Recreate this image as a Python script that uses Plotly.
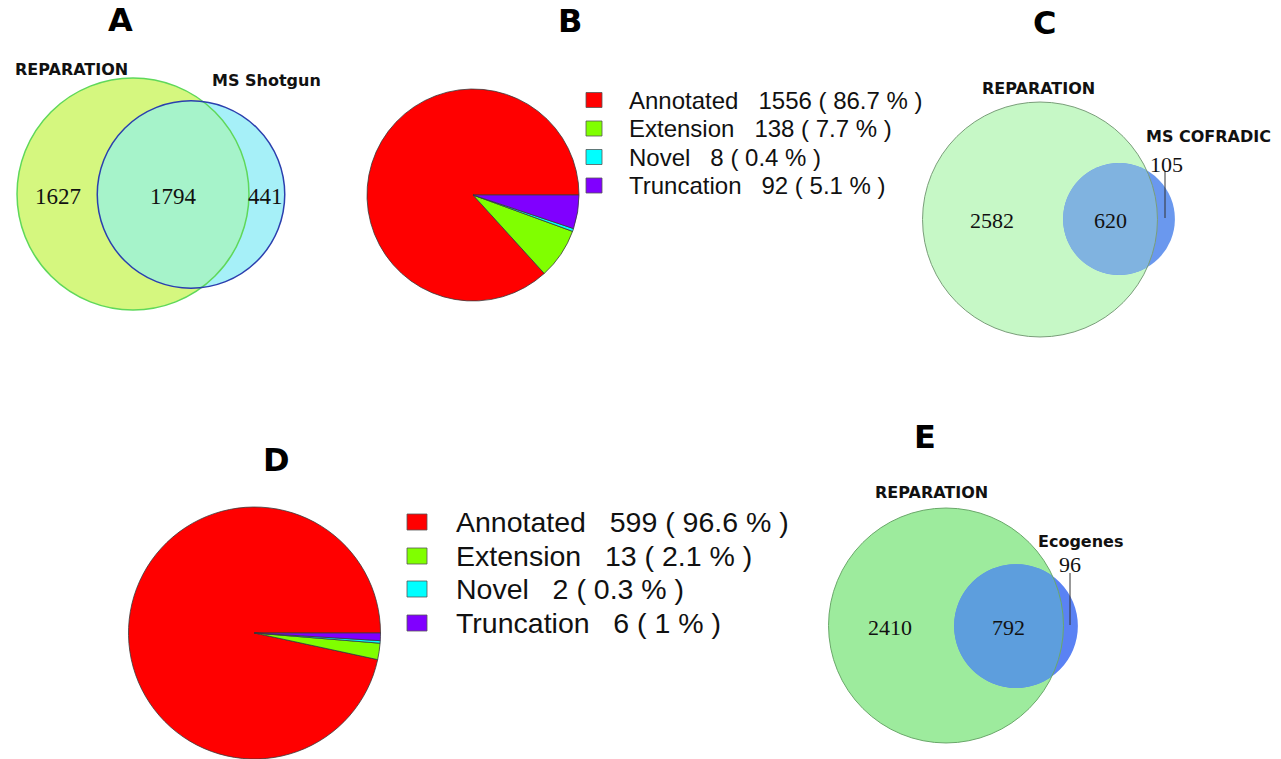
import numpy as np
import plotly.graph_objects as go

# ---------------- data ----------------
panel_letters = ["A", "B", "C", "D", "E"]

venn_a_sets = ["REPARATION", "MS Shotgun"]
venn_a_counts = [1627, 1794, 441]      # only set1, both, only set2
venn_c_sets = ["REPARATION", "MS COFRADIC"]
venn_c_counts = [2582, 620, 105]
venn_e_sets = ["REPARATION", "Ecogenes"]
venn_e_counts = [2410, 792, 96]

pie_categories = ["Annotated", "Extension", "Novel", "Truncation"]
pie_b_values = [1556, 138, 8, 92]
pie_d_values = [599, 13, 2, 6]

# ---------------- styles / layout ----------------
W, H = 1281, 759
pie_colors = ["#FF0000", "#80FF00", "#00FFFF", "#8000FF"]
SANS = "Liberation Sans, Arial, sans-serif"
SERIF = "Liberation Serif, Times New Roman, serif"
BOLD = "DejaVu Sans, Verdana, sans-serif"

venn_styles = [
    dict(sets=venn_a_sets, counts=venn_a_counts, c1=(133, 194), c2=(191, 194.5), scale=1.983,
         fill1="#d5f77f", fill2="#a6f0f8", fill12="#a6f3ca", line1="#5fd85a", line2="#2b3fae",
         lw1=1.5, lw2=1.5, numsize=23,
         labpos=[(71, 69), (266, 80)],
         numpos=[(57.5, 196), (173, 196), (265.5, 196)], leader=None),
    dict(sets=venn_c_sets, counts=venn_c_counts, c1=(1040, 219.5), c2=(1119, 219), scale=2.076,
         fill1="#c6f8c6", fill2="#6a98ee", fill12="#80b3e0", line1="#7a9e7a", line2=None,
         lw1=1, lw2=0, numsize=22,
         labpos=[(1038, 88), (1208, 136)],
         numpos=[(992, 220), (1110, 220), (1166, 164)], leader=((1165, 171), (1165, 218))),
    dict(sets=venn_e_sets, counts=venn_e_counts, c1=(946, 625.5), c2=(1016, 626), scale=2.076,
         fill1="#9deb9d", fill2="#5a82f4", fill12="#5d9edd", line1="#6aa86a", line2=None,
         lw1=1, lw2=0, numsize=22,
         labpos=[(931, 492), (1080, 541)],
         numpos=[(890, 627), (1008.5, 627), (1070, 564)], leader=((1070, 573), (1070, 625))),
]

pie_styles = [
    dict(values=pie_b_values, cx=473, cy=195, r=106,
         sq_x=(586, 602), sq_h=15, rows=[100, 128.5, 157, 185.5], text_x=627, fsize=24),
    dict(values=pie_d_values, cx=254.5, cy=633, r=126,
         sq_x=(407, 427), sq_h=16, rows=[522, 556, 589, 623], text_x=454, fsize=28.5),
]

letter_pos = [(120, 20), (570, 21), (1044, 23), (276, 460), (925, 437)]

fig = go.Figure()
shapes = []
annotations = []


def circle_pts(cx, cy, r, t0, t1, n=120):
    t = np.linspace(t0, t1, n)
    return cx + r * np.cos(t), cy + r * np.sin(t)


for vs in venn_styles:
    a_only, both, b_only = vs["counts"]
    r1 = vs["scale"] * np.sqrt(a_only + both)
    r2 = vs["scale"] * np.sqrt(b_only + both)
    (x1, y1), (x2, y2) = vs["c1"], vs["c2"]
    # filled circles
    shapes.append(dict(type="circle", xref="x", yref="y", x0=x1 - r1, x1=x1 + r1, y0=y1 - r1, y1=y1 + r1,
                       fillcolor=vs["fill1"], line=dict(width=0), layer="above"))
    shapes.append(dict(type="circle", xref="x", yref="y", x0=x2 - r2, x1=x2 + r2, y0=y2 - r2, y1=y2 + r2,
                       fillcolor=vs["fill2"], line=dict(width=0), layer="above"))
    # lens (intersection)
    d = np.hypot(x2 - x1, y2 - y1)
    a = (r1 ** 2 - r2 ** 2 + d ** 2) / (2 * d)
    th12 = np.arctan2(y2 - y1, x2 - x1)
    al1 = np.arccos(np.clip(a / r1, -1, 1))
    al2 = np.arccos(np.clip((d - a) / r2, -1, 1))
    px1, py1 = circle_pts(x1, y1, r1, th12 - al1, th12 + al1)
    px2, py2 = circle_pts(x2, y2, r2, th12 + np.pi - al2, th12 + np.pi + al2)
    px = np.concatenate([px1, px2])
    py = np.concatenate([py1, py2])
    path = "M " + " L ".join(f"{u:.2f},{v:.2f}" for u, v in zip(px, py)) + " Z"
    shapes.append(dict(type="path", xref="x", yref="y", path=path, fillcolor=vs["fill12"],
                       line=dict(width=0), layer="above"))
    # outlines
    if vs["line1"]:
        shapes.append(dict(type="circle", xref="x", yref="y", x0=x1 - r1, x1=x1 + r1, y0=y1 - r1, y1=y1 + r1,
                           line=dict(color=vs["line1"], width=vs["lw1"]), layer="above"))
    if vs["line2"]:
        shapes.append(dict(type="circle", xref="x", yref="y", x0=x2 - r2, x1=x2 + r2, y0=y2 - r2, y1=y2 + r2,
                           line=dict(color=vs["line2"], width=vs["lw2"]), layer="above"))
    if vs["leader"]:
        (lx0, ly0), (lx1, ly1) = vs["leader"]
        shapes.append(dict(type="line", xref="x", yref="y", x0=lx0, y0=ly0, x1=lx1, y1=ly1,
                           line=dict(color="#333333", width=1), layer="above"))
    for name, (tx, ty) in zip(vs["sets"], vs["labpos"]):
        annotations.append(dict(x=tx, y=ty, xref="x", yref="y", text=f"<b>{name}</b>", showarrow=False,
                                xanchor="center", yanchor="middle",
                                font=dict(family=BOLD, size=16, color="#111111")))
    for val, (tx, ty) in zip(vs["counts"], vs["numpos"]):
        annotations.append(dict(x=tx, y=ty, xref="x", yref="y", text=str(val), showarrow=False,
                                xanchor="center", yanchor="middle",
                                font=dict(family=SERIF, size=vs["numsize"], color="#111111")))

for ps in pie_styles:
    cx, cy, r = ps["cx"], ps["cy"], ps["r"]
    total = sum(ps["values"])
    # first slice starts at 3 o'clock and runs counterclockwise (R's pie default)
    rot = 90 - 360.0 * ps["values"][0] / total
    fig.add_trace(go.Pie(
        labels=pie_categories, values=ps["values"], sort=False, direction="counterclockwise",
        rotation=rot, textinfo="none", showlegend=False, hoverinfo="label+value+percent",
        marker=dict(colors=pie_colors, line=dict(color="#3a3a3a", width=0.8)),
        domain=dict(x=[(cx - r) / W, (cx + r) / W], y=[max(0, 1 - (cy + r) / H), 1 - (cy - r) / H]),
    ))
    for cat, val, col, ry in zip(pie_categories, ps["values"], pie_colors, ps["rows"]):
        pct = f"{round(100 * val / total, 1):g}"
        sp = "\u00a0"
        label = f"{cat}{sp * 3}{val}{sp}({sp}{pct}{sp}%{sp})"
        shapes.append(dict(type="rect", xref="x", yref="y", x0=ps["sq_x"][0], x1=ps["sq_x"][1],
                           y0=ry - ps["sq_h"] / 2, y1=ry + ps["sq_h"] / 2, fillcolor=col,
                           line=dict(color="#555555", width=0.8), layer="above"))
        annotations.append(dict(x=ps["text_x"], y=ry, xref="x", yref="y", text=label, showarrow=False,
                                xanchor="left", yanchor="middle",
                                font=dict(family=SANS, size=ps["fsize"], color="#111111")))

for letter, (tx, ty) in zip(panel_letters, letter_pos):
    annotations.append(dict(x=tx, y=ty, xref="x", yref="y", text=f"<b>{letter}</b>", showarrow=False,
                            xanchor="center", yanchor="middle",
                            font=dict(family=BOLD, size=32, color="#000000")))

fig.update_layout(
    width=W, height=H, margin=dict(l=0, r=0, t=0, b=0),
    paper_bgcolor="white", plot_bgcolor="white",
    xaxis=dict(range=[0, W], visible=False, showgrid=False, zeroline=False, fixedrange=True, domain=[0, 1]),
    yaxis=dict(range=[H, 0], visible=False, showgrid=False, zeroline=False, fixedrange=True, domain=[0, 1]),
    shapes=shapes, annotations=annotations, showlegend=False,
)

fig.write_html("out.html", config={"displayModeBar": False},
               post_script="document.body.style.margin='0';document.body.style.overflow='hidden';")
